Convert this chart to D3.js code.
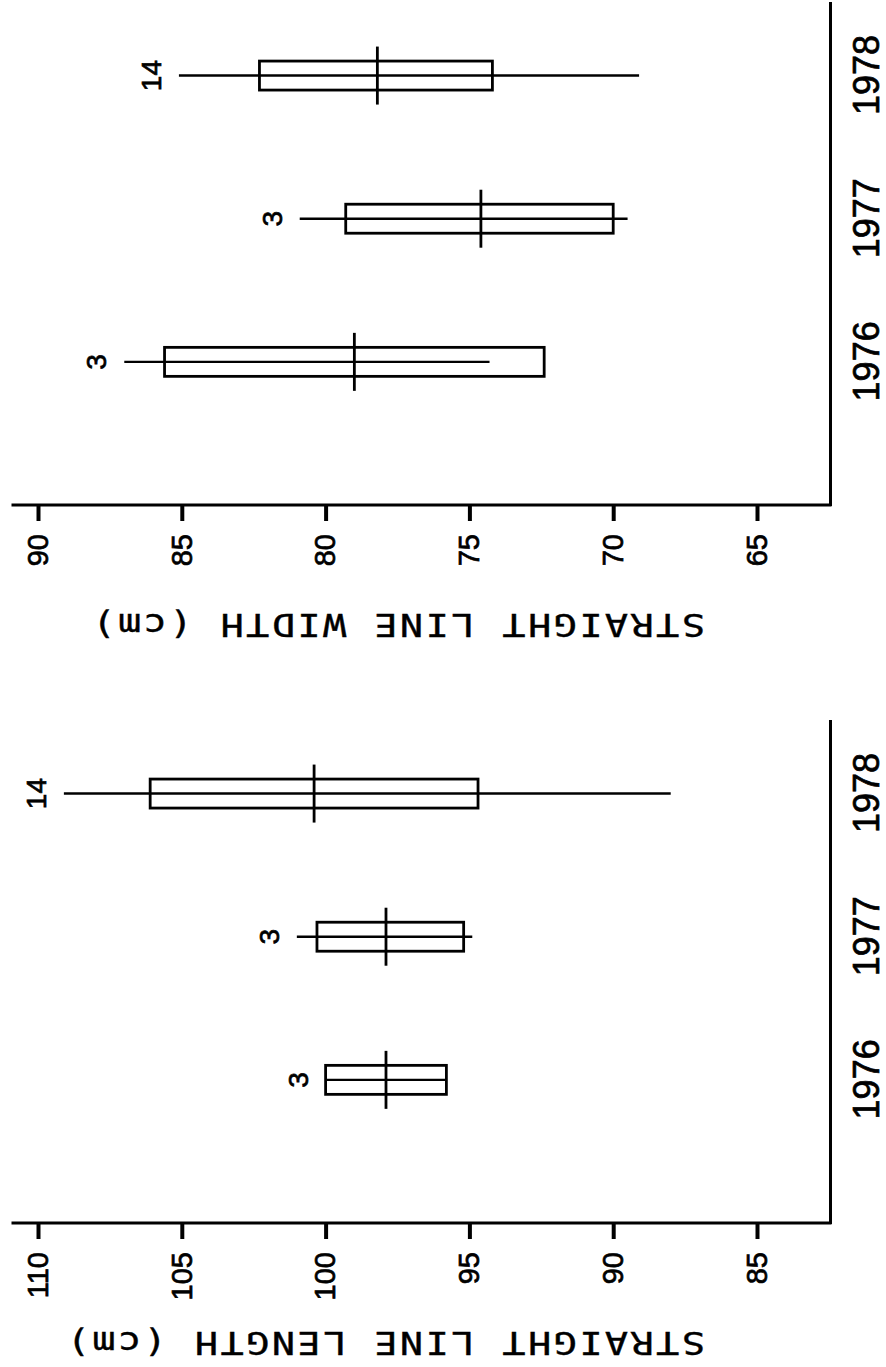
<!DOCTYPE html>
<html>
<head>
<meta charset="utf-8">
<script src="https://cdn.jsdelivr.net/npm/d3@7"></script>
<style>
  body { margin: 0; background: #fff; }
  svg { display: block; background: #fff; }
</style>
</head>
<body>
<svg id="chart" width="886" height="1367"></svg>
<script>
var years = [1976, 1977, 1978];
var counts = [3, 3, 14];

var widthMax = [87.0, 80.9, 85.1];
var widthQ3  = [85.6, 79.3, 82.3];
var widthMed = [79.0, 74.6, 78.2];
var widthQ1  = [72.4, 70.0, 74.2];
var widthMin = [74.3, 69.5, 69.1];
var widthTicks = [90, 85, 80, 75, 70, 65];

var lengthMax = [100.0, 101.0, 109.1];
var lengthQ3  = [100.0, 100.3, 106.1];
var lengthMed = [97.9, 97.9, 100.4];
var lengthQ1  = [95.8, 95.2, 94.7];
var lengthMin = [95.8, 94.9, 88.0];
var lengthTicks = [110, 105, 100, 95, 90, 85];

var canvas = d3.select("#chart");

drawPanel(canvas, 505, "STRAIGHT LINE WIDTH (cm)", widthTicks,
          widthMax, widthQ3, widthMed, widthQ1, widthMin);
drawPanel(canvas, 1223, "STRAIGHT LINE LENGTH (cm)", lengthTicks,
          lengthMax, lengthQ3, lengthMed, lengthQ1, lengthMin);

function inked(sel, size){
    // lettering in the scan is a bit heavier than the plain font
    sel.attr("fill", "#000")
       .attr("stroke", "#000")
       .attr("stroke-width", 0.7)
       .style("font-family", "'Liberation Sans', Arial, sans-serif")
       .style("font-size", size + "px");
}

function drawPanel(canvas, baseY, title, ticks, hi, q3, med, q1, lo){
    // the panel is drawn upright and then turned a quarter turn, like the scan
    var g = canvas.append("g")
        .attr("transform", "translate(0," + baseY + ") rotate(-90)");

    var x = d3.scaleLinear().domain([1975, 1978.5]).range([0, 501]);
    var y = d3.scaleLinear()
        .domain([ticks[ticks.length - 1], ticks[0]])
        .range([757, 38]);

    var rows = years.map(function(d, i){
        return {year: d, n: counts[i], hi: hi[i], q3: q3[i], med: med[i], q1: q1[i], lo: lo[i]};
    });

    // value axis
    var yAxis = g.append("g")
        .call(d3.axisLeft(y).tickValues(ticks).tickSize(16).tickPadding(13));
    yAxis.select(".domain").remove();
    yAxis.selectAll(".tick line").attr("stroke", "#000").attr("stroke-width", 4);
    yAxis.selectAll(".tick text").call(inked, 29);

    g.append("line")
        .attr("x1", 0).attr("x2", 0)
        .attr("y1", 13).attr("y2", 830)
        .attr("stroke", "#000")
        .attr("stroke-width", 3)
        .attr("stroke-linecap", "square");

    // year axis
    var xAxis = g.append("g")
        .attr("transform", "translate(0,830)")
        .call(d3.axisBottom(x).tickValues(years).tickFormat(d3.format("d"))
              .tickSizeInner(0).tickSizeOuter(0).tickPadding(23));
    xAxis.select(".domain").attr("stroke", "#000").attr("stroke-width", 3)
        .attr("stroke-linecap", "square");
    xAxis.selectAll(".tick text").call(inked, 36);

    // boxes
    var box = g.selectAll("g.box").data(rows).enter()
        .append("g")
        .attr("class", "box");

    box.append("line")
        .attr("x1", function(d){ return x(d.year); })
        .attr("x2", function(d){ return x(d.year); })
        .attr("y1", function(d){ return y(d.hi); })
        .attr("y2", function(d){ return y(d.lo); })
        .attr("stroke", "#000")
        .attr("stroke-width", 2.4);

    box.append("rect")
        .attr("x", function(d){ return x(d.year) - 14.5; })
        .attr("y", function(d){ return y(d.q3); })
        .attr("width", 29)
        .attr("height", function(d){ return y(d.q1) - y(d.q3); })
        .attr("fill", "none")
        .attr("stroke", "#000")
        .attr("stroke-width", 2.8);

    box.append("line")
        .attr("x1", function(d){ return x(d.year) - 29; })
        .attr("x2", function(d){ return x(d.year) + 29; })
        .attr("y1", function(d){ return y(d.med); })
        .attr("y2", function(d){ return y(d.med); })
        .attr("stroke", "#000")
        .attr("stroke-width", 2.8);

    box.append("text")
        .attr("x", function(d){ return x(d.year); })
        .attr("y", function(d){ return y(Math.max(d.hi, d.q3)) - 18; })
        .attr("text-anchor", "middle")
        .call(inked, 28)
        .text(function(d){ return d.n; });

    g.append("text")
        .attr("transform", "translate(-109,705) rotate(-90) scale(1.2,1)")
        .attr("text-anchor", "start")
        .attr("fill", "#000")
        .attr("stroke", "#000")
        .attr("stroke-width", 0.4)
        .style("font-family", "'DejaVu Sans Mono', monospace")
        .style("font-size", "32px")
        .style("letter-spacing", "2.1px")
        .text(title);
}
</script>
</body>
</html>
